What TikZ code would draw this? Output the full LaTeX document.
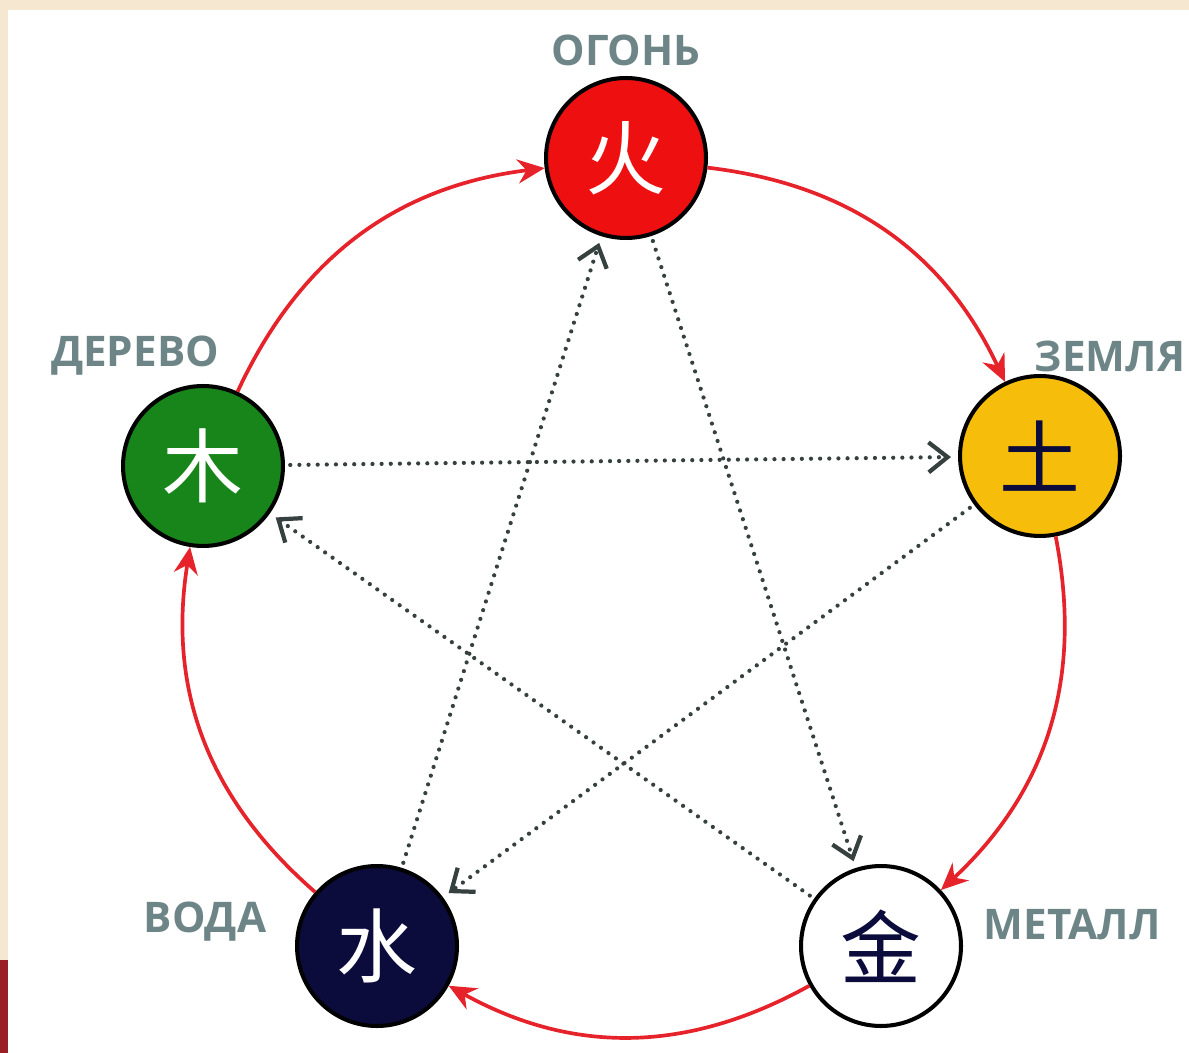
\documentclass[tikz,border=0pt]{standalone}
\usepackage{fontspec}
\setmainfont{Open Sans}
\newfontfamily\cjk{Noto Sans CJK SC}
\usetikzlibrary{arrows.meta, positioning}
\definecolor{fireRed}{HTML}{EE1010}
\definecolor{earthYellow}{HTML}{F6BE0A}
\definecolor{woodGreen}{HTML}{17851A}
\definecolor{waterNavy}{HTML}{0B0B3C}
\definecolor{cycleRed}{HTML}{E6222B}
\definecolor{dotGray}{HTML}{36403F}
\definecolor{labelGray}{HTML}{6E8587}
\definecolor{frameBeige}{HTML}{F6E8D0}
\definecolor{frameRed}{HTML}{9A1E24}
\tikzset{
  elem/.style={circle, draw=black, line width=2.3pt, minimum size=3.2cm,
               inner sep=0pt, font=\cjk\fontsize{46}{46}\selectfont},
  lbl/.style={inner sep=0pt, text=labelGray, font=\bfseries\fontsize{24}{24}\selectfont},
  arrowC/.style={-{Stealth[length=5.4mm, width=4.8mm]}, cycleRed, line width=2.1pt},
  arrowK/.style={-{Straight Barb[length=3.8mm, width=6mm, line width=2.4pt]}, dotGray,
                 line width=2.4pt, line cap=round, dash pattern=on 0pt off 5.2pt,
                 shorten <=3pt, shorten >=4pt},
}
\begin{document}
\begin{tikzpicture}[x=0.02cm, y=-0.02cm]
    \useasboundingbox (0,0) rectangle (1189,1053);
    \fill[frameBeige] (0,0) rectangle (1189,1053);
    \fill[white] (8,10) rectangle (1189,1053);
    \fill[frameRed] (0,960) rectangle (8,1053);

    \node[elem, fill=fireRed, text=white] (fire) at (626,158) {火};
    \node[elem, fill=earthYellow, text=waterNavy] (earth) at (1040,456) {土};
    \node[elem, fill=white, text=waterNavy] (metal) at (881,946) {金};
    \node[elem, fill=waterNavy, text=white] (water) at (377,946) {水};
    \node[elem, fill=woodGreen, text=white] (wood) at (203,466) {木};

    \node[lbl, above=0.2cm of fire] (lfire) {ОГОНЬ};
    \node[lbl] (lwood) at (135,356) {ДЕРЕВО};
    \node[lbl] (learth) at (1110,356) {ЗЕМЛЯ};
    \node[lbl] (lwater) at (205,922) {ВОДА};
    \node[lbl] (lmetal) at (1072,925) {МЕТАЛЛ};

    \draw[arrowC] (wood) to[bend left=29] (fire); \draw[arrowC] (fire) to[bend left=29] (earth);
    \draw[arrowC] (earth) to[bend left=29] (metal); \draw[arrowC] (metal) to[bend left=29] (water);
    \draw[arrowC] (water) to[bend left=29] (wood);

    \draw[arrowK] (wood) -- (earth); \draw[arrowK] (earth) -- (water);
    \draw[arrowK] (water) -- (fire); \draw[arrowK] (fire) -- (metal);
    \draw[arrowK] (metal) -- (wood);
  \end{tikzpicture}
\end{document}
